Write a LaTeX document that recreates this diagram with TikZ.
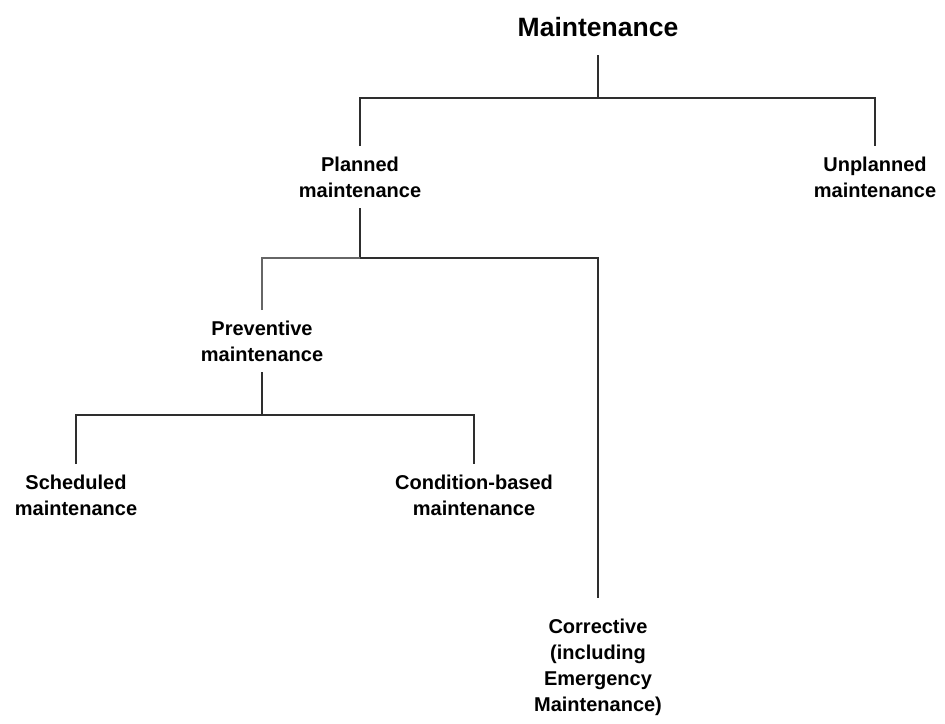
\documentclass[tikz,border=0pt]{standalone}
\usepackage{fontspec}
\setmainfont{Liberation Sans}
% vertical room above the first line and below the last line of a label
\newcommand\gaptop{\rule{0pt}{25.3pt}}
\newcommand\gapbot{\rule[-11pt]{0pt}{11pt}}
\begin{document}
\begin{tikzpicture}[x=1pt,y=1pt,
  lbl/.style={align=center, inner sep=0pt, outer sep=0pt,
    font={\fontsize{20pt}{26pt}\selectfont\bfseries}},
  title/.style={inner sep=0pt, outer sep=0pt,
    font={\fontsize{26.5pt}{32pt}\selectfont\bfseries}},
  link/.style={draw=black!82, line width=2.2pt},
  linklight/.style={draw=black!60, line width=1.9pt}]
\useasboundingbox (0,0) rectangle (945,-723);

% labels
\node[title, anchor=south] (M) at (598,-55) {Maintenance\rule[-19pt]{0pt}{19pt}};
\node[lbl, anchor=north] (P)  at (360,-146) {\gaptop Planned\\maintenance\gapbot};
\node[lbl, anchor=north] (U)  at (875,-146) {\gaptop Unplanned\\maintenance\gapbot};
\node[lbl, anchor=north] (Pv) at (262,-310) {\gaptop Preventive\\maintenance\gapbot};
\node[lbl, anchor=north] (S)  at (76,-464)  {\gaptop Scheduled\\maintenance\gapbot};
\node[lbl, anchor=north] (CB) at (474,-464) {\gaptop Condition-based\\maintenance\gapbot};
\node[lbl, anchor=north] (C)  at (598,-608) {\gaptop Corrective\\(including\\Emergency\\Maintenance)};

% branching points
\coordinate (j1) at (598,-98);
\coordinate (j2) at (360,-258);
\coordinate (j3) at (262,-415);

% tree connectors
\draw[link] (M.south) -- (j1);
\draw[link] (P.north) |- (j1) -| (U.north);
\draw[link] (P.south) -- (j2);
\draw[linklight] (Pv.north) |- (j2);
\draw[link, shorten >=10pt] (j2) -| (C.north);
\draw[link] (Pv.south) -- (j3);
\draw[link] (S.north) |- (j3) -| (CB.north);
\end{tikzpicture}
\end{document}
